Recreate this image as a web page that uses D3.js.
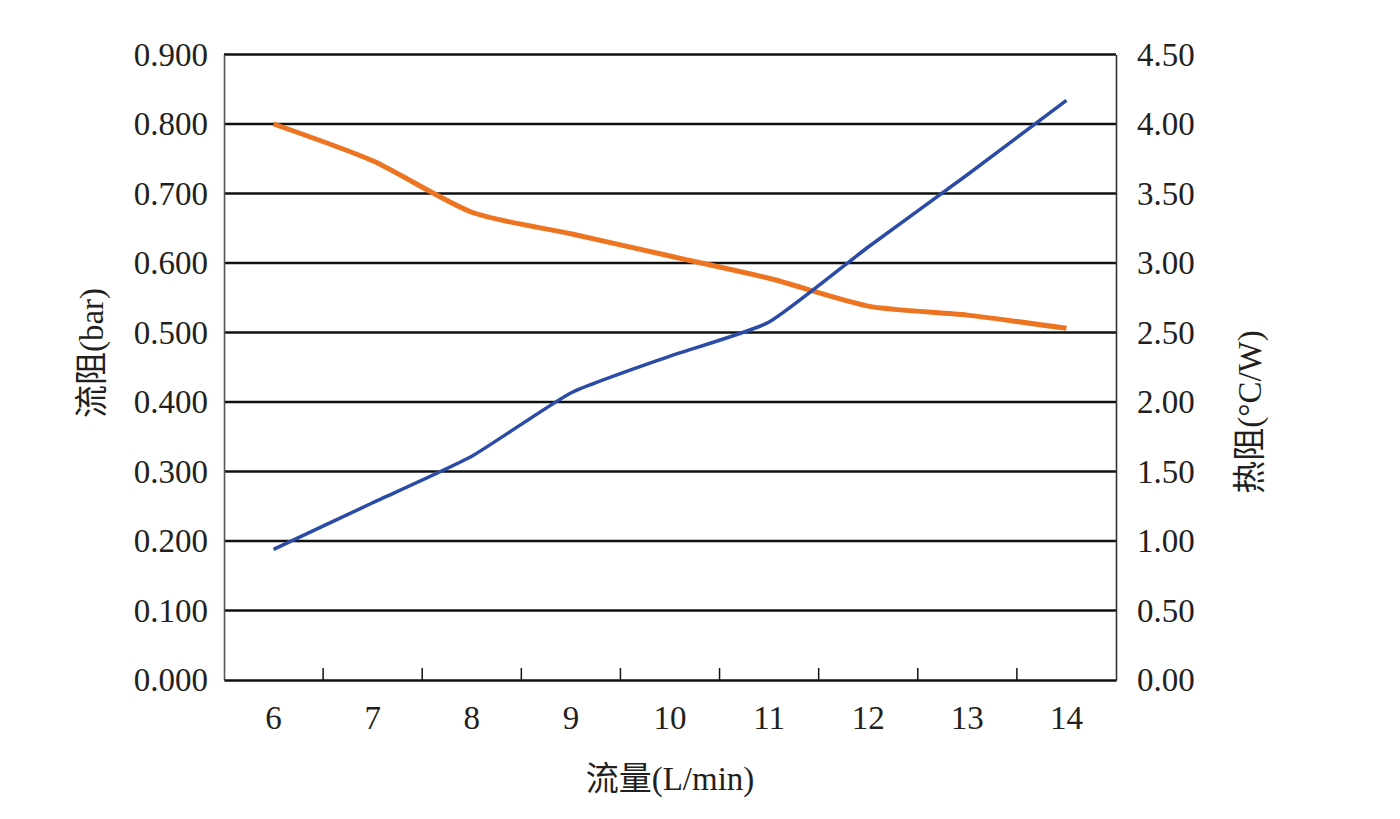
<!DOCTYPE html>
<html>
<head>
<meta charset="utf-8">
<script src="https://cdn.jsdelivr.net/npm/d3@7"></script>
<style>
  html, body { margin: 0; padding: 0; background: #fff; }
  svg text { font-family: "Liberation Serif", "Noto Sans CJK SC", serif; fill: #231f20; }
</style>
</head>
<body>
<svg id="chart" width="1400" height="819"></svg>
<script>
// ---- data ----
const categories = ["6", "7", "8", "9", "10", "11", "12", "13", "14"];
const flowResistance = [0.188, 0.255, 0.322, 0.413, 0.466, 0.515, 0.623, 0.727, 0.834]; // bar, left axis
const thermalResistance = [4.00, 3.735, 3.365, 3.21, 3.05, 2.89, 2.69, 2.625, 2.53];   // °C/W, right axis
const leftTicks = [0, 0.1, 0.2, 0.3, 0.4, 0.5, 0.6, 0.7, 0.8, 0.9];
const rightTicks = [0, 0.5, 1.0, 1.5, 2.0, 2.5, 3.0, 3.5, 4.0, 4.5];
const xTitle = "流量(L/min)";
const leftTitle = "流阻(bar)";
const rightTitle = "热阻(°C/W)";

// ---- layout ----
const svg = d3.select("#chart");
const L = 224, R = 1116, T = 54.5, B = 680;

const x = d3.scaleBand().domain(categories).range([L, R]).paddingInner(0).paddingOuter(0);
const yL = d3.scaleLinear().domain([0, 0.9]).range([B, T]);
const yR = d3.scaleLinear().domain([0, 4.5]).range([B, T]);

// gridlines
svg.append("g").selectAll("line").data(leftTicks.filter(d => d > 0)).join("line")
  .attr("x1", L).attr("x2", R)
  .attr("y1", d => yL(d)).attr("y2", d => yL(d))
  .attr("stroke", "#111").attr("stroke-width", 2.4);

// left axis
const gL = svg.append("g").attr("transform", `translate(${L},0)`)
  .call(d3.axisLeft(yL).tickValues(leftTicks).tickFormat(d3.format(".3f")).tickSize(0).tickPadding(16));
gL.select(".domain").attr("stroke", "#555").attr("stroke-width", 1.6);
gL.selectAll("text").style("font-size", "33px").attr("fill", "#231f20");

// right axis
const gR = svg.append("g").attr("transform", `translate(${R},0)`)
  .call(d3.axisRight(yR).tickValues(rightTicks).tickFormat(d3.format(".2f")).tickSize(0).tickPadding(21));
gR.select(".domain").attr("stroke", "#333").attr("stroke-width", 1.6);
gR.selectAll("text").style("font-size", "33px").attr("fill", "#231f20");

// bottom axis
const gB = svg.append("g").attr("transform", `translate(0,${B})`)
  .call(d3.axisBottom(x).tickSize(0).tickPadding(26));
gB.select(".domain").attr("stroke", "#111").attr("stroke-width", 2.6);
gB.selectAll("text").style("font-size", "33px").attr("fill", "#231f20");
// category boundary ticks (pointing up)
const bounds = categories.slice(1).map(c => x(c));
gB.append("g").selectAll("line").data(bounds).join("line")
  .attr("x1", d => d).attr("x2", d => d).attr("y1", 0).attr("y2", -12)
  .attr("stroke", "#111").attr("stroke-width", 1.5);

// lines
const cx = c => x(c) + x.bandwidth() / 2;
const lineL = d3.line().x((d, i) => cx(categories[i])).y(d => yL(d)).curve(d3.curveCardinal.tension(0.5));
const lineR = d3.line().x((d, i) => cx(categories[i])).y(d => yR(d)).curve(d3.curveCardinal.tension(0.3));

svg.append("path").datum(thermalResistance).attr("d", lineR)
  .attr("fill", "none").attr("stroke", "#ED7420").attr("stroke-width", 5);
svg.append("path").datum(flowResistance).attr("d", lineL)
  .attr("fill", "none").attr("stroke", "#2B4CA6").attr("stroke-width", 3.5);

// titles
svg.append("text").attr("x", 670).attr("y", 790).attr("text-anchor", "middle")
  .style("font-size", "33px").text(xTitle);
svg.append("text").attr("transform", "translate(103,353) rotate(-90)").attr("text-anchor", "middle")
  .style("font-size", "33px").text(leftTitle);
svg.append("text").attr("transform", "translate(1261,412) rotate(-90)").attr("text-anchor", "middle")
  .style("font-size", "33px").text(rightTitle);
</script>
</body>
</html>
